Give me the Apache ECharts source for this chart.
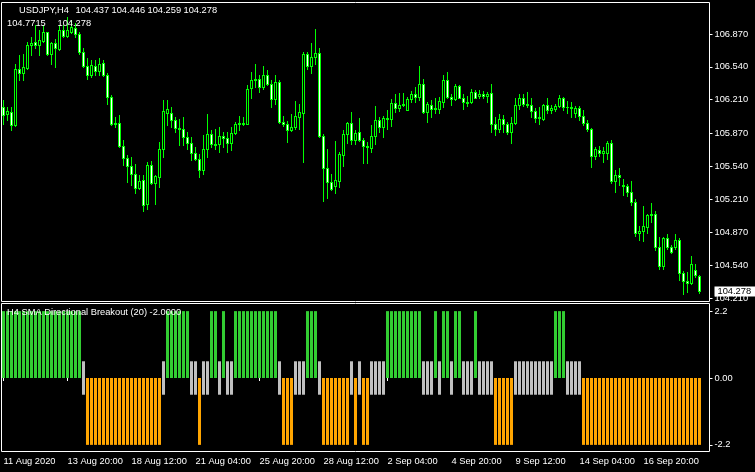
<!DOCTYPE html>
<html>
<head>
<meta charset="utf-8">
<title>USDJPY,H4</title>
<script src="https://cdn.jsdelivr.net/npm/echarts@6/dist/echarts.min.js"></script>
<style>
  html, body { margin: 0; padding: 0; background: #000; }
  #chart { width: 755px; height: 472px; }
</style>
</head>
<body>
<div id="chart"></div>
<script>
// USDJPY H4 candles (11 Aug 04:00 .. 17 Sep 2020)
var opens = [
  106.138,106.061,106.081,105.953,106.524,106.474,106.530,106.759,106.793,106.759,
  106.803,106.887,106.675,106.776,106.716,106.910,106.853,106.893,106.937,106.867,
  106.692,106.551,106.457,106.554,106.500,106.581,106.457,106.239,105.970,105.977,
  105.741,105.627,105.543,105.466,105.321,105.398,105.163,105.550,105.372,105.432,
  105.718,106.071,106.071,106.010,105.926,105.913,105.835,105.775,105.674,105.613,
  105.499,105.711,105.863,105.768,105.761,105.842,105.825,105.775,105.876,105.970,
  105.980,105.970,106.323,106.407,106.420,106.333,106.457,106.373,106.212,106.390,
  105.987,105.970,105.909,105.930,106.037,106.077,106.668,106.548,106.635,106.685,
  105.842,105.526,105.382,105.341,105.392,105.651,105.869,105.980,105.808,105.886,
  105.802,105.745,105.728,105.842,106.003,105.936,106.027,106.020,106.181,106.131,
  106.161,106.111,106.212,106.272,106.239,106.373,106.087,106.158,106.121,106.121,
  106.188,106.413,106.239,106.215,106.346,106.229,106.188,106.185,106.286,106.245,
  106.269,106.252,106.279,105.970,105.919,106.013,105.970,105.886,105.977,106.161,
  106.232,106.165,106.158,106.094,106.030,106.020,106.161,106.111,106.121,106.145,
  106.222,106.138,106.141,106.071,106.131,106.047,105.977,105.919,105.640,105.701,
  105.677,105.674,105.778,105.392,105.449,105.355,105.341,105.281,105.180,104.868,
  104.888,104.929,105.046,105.063,104.727,104.532,104.818,104.727,104.727,104.794,
  104.465,104.381,104.364,104.492,104.437
];
var closes = [
  106.054,106.094,105.953,106.524,106.474,106.541,106.759,106.786,106.759,106.810,
  106.887,106.668,106.776,106.726,106.910,106.853,106.910,106.944,106.867,106.692,
  106.551,106.457,106.558,106.500,106.574,106.457,106.239,105.970,105.980,105.741,
  105.627,105.543,105.466,105.321,105.388,105.153,105.550,105.372,105.439,105.718,
  106.094,106.114,106.010,105.926,105.913,105.835,105.775,105.674,105.613,105.499,
  105.711,105.863,105.768,105.758,105.842,105.822,105.775,105.879,105.970,105.977,
  105.970,106.313,106.407,106.420,106.333,106.457,106.373,106.212,106.390,105.987,
  105.970,105.909,105.936,106.044,106.081,106.668,106.551,106.635,106.685,105.842,
  105.526,105.382,105.315,105.398,105.661,105.869,105.980,105.808,105.879,105.802,
  105.745,105.735,105.842,106.003,105.936,106.027,106.020,106.181,106.131,106.161,
  106.171,106.212,106.272,106.239,106.373,106.087,106.171,106.121,106.124,106.195,
  106.413,106.239,106.212,106.346,106.229,106.188,106.181,106.286,106.229,106.269,
  106.252,106.272,105.970,105.919,106.013,105.970,105.886,105.980,106.161,106.232,
  106.165,106.158,106.094,106.030,106.037,106.161,106.111,106.124,106.145,106.222,
  106.138,106.141,106.131,106.131,106.047,105.977,105.919,105.640,105.718,105.677,
  105.698,105.778,105.392,105.449,105.429,105.341,105.281,105.180,104.868,104.888,
  104.936,105.046,105.063,104.727,104.532,104.818,104.727,104.677,104.794,104.465,
  104.381,104.368,104.559,104.442,104.278
];
var highs = [
  106.205,106.138,106.138,106.574,106.658,106.675,106.793,106.843,106.961,106.910,
  106.961,106.893,106.793,106.826,106.961,106.961,107.045,107.011,106.978,106.893,
  106.726,106.625,106.608,106.608,106.625,106.608,106.474,106.255,106.037,106.054,
  105.802,105.651,105.634,105.560,105.449,105.449,105.583,105.590,105.449,105.785,
  106.205,106.205,106.138,106.037,106.020,106.037,105.886,105.835,105.735,105.667,
  105.852,106.061,105.903,105.919,105.936,105.886,105.886,105.936,105.987,106.044,
  106.037,106.356,106.490,106.568,106.457,106.548,106.514,106.413,106.457,106.413,
  106.044,105.997,106.064,106.195,106.165,106.692,106.692,106.783,106.927,106.726,
  105.869,105.718,105.466,105.792,105.684,105.909,105.987,106.081,105.909,106.027,
  105.819,105.785,105.953,106.145,106.037,106.044,106.111,106.212,106.272,106.279,
  106.279,106.239,106.299,106.333,106.548,106.423,106.188,106.205,106.222,106.239,
  106.457,106.490,106.265,106.373,106.356,106.272,106.245,106.313,106.306,106.306,
  106.299,106.289,106.366,106.037,106.064,106.054,105.987,106.037,106.232,106.265,
  106.265,106.289,106.222,106.131,106.138,106.171,106.222,106.161,106.171,106.255,
  106.239,106.198,106.188,106.145,106.145,106.104,106.003,105.926,105.735,105.745,
  105.735,105.792,105.802,105.506,105.526,105.415,105.365,105.388,105.214,104.936,
  105.140,105.063,105.170,105.086,104.828,104.828,104.862,104.744,104.862,104.821,
  104.482,104.475,104.633,104.559,104.446
];
var lows = [
  105.963,106.003,105.903,105.943,106.407,106.407,106.520,106.658,106.726,106.658,
  106.793,106.658,106.574,106.541,106.709,106.843,106.843,106.877,106.843,106.675,
  106.541,106.423,106.440,106.457,106.457,106.447,106.171,105.953,105.936,105.735,
  105.550,105.382,105.348,105.271,105.315,105.090,105.113,105.365,105.163,105.331,
  105.634,105.953,105.936,105.886,105.751,105.751,105.718,105.600,105.600,105.432,
  105.466,105.634,105.735,105.718,105.684,105.735,105.684,105.701,105.869,105.903,
  105.953,105.963,106.232,106.339,106.289,106.313,106.356,106.138,106.171,105.977,
  105.943,105.785,105.896,105.919,105.919,105.583,106.524,106.480,106.574,105.835,
  105.190,105.224,105.305,105.271,105.331,105.543,105.775,105.768,105.768,105.795,
  105.573,105.573,105.684,105.761,105.886,105.835,105.919,105.943,106.087,106.094,
  106.145,106.104,106.188,106.188,106.205,106.077,105.987,106.037,106.071,106.077,
  106.138,106.229,106.155,106.205,106.222,106.121,106.148,106.178,106.222,106.232,
  106.232,106.188,105.886,105.852,105.886,105.886,105.862,105.775,105.963,106.121,
  106.145,106.138,106.037,105.987,105.970,106.003,106.071,106.071,106.097,106.138,
  106.111,106.071,106.037,106.037,106.003,105.953,105.896,105.533,105.610,105.644,
  105.583,105.617,105.375,105.281,105.348,105.248,105.237,105.153,104.835,104.794,
  104.788,104.868,104.979,104.694,104.509,104.509,104.710,104.667,104.710,104.391,
  104.257,104.274,104.358,104.425,104.259
];

// indicator state per bar: 1 = up (green), -1 = down (orange), 0 = neutral (grey)
var signal = [
  1,1,1,1,1,1,1,1,1,1, 1,1,1,1,1,1,1,1,1,1,
  0,
  -1,-1,-1,-1,-1,-1,-1,-1,-1,-1, -1,-1,-1,-1,-1,-1,-1,-1,-1,
  0,
  1,1,1,1,1,1,
  0,0,-1,0,0,1,1,0,1,0,0,
  1,1,1,1,1,1,1,1,1,1,1,
  0,-1,-1,-1,0,0,0,1,1,1,0,
  -1,-1,-1,-1,-1,-1,-1,
  0,-1,0,-1,-1,0,0,0,0,
  1,1,1,1,1,1,1,1,1,
  0,0,0,1,0,1,1,0,1,1,0,0,0,1,0,0,0,0,
  -1,-1,-1,-1,-1,
  0,0,0,0,0,0,0,0,0,0,
  1,1,1,
  0,0,0,0,
  -1,-1,-1,-1,-1,-1,-1,-1,-1,-1, -1,-1,-1,-1,-1,-1,-1,-1,-1,-1, -1,-1,-1,-1,-1,-1,-1,-1,-1,-1
];
var upLevel = 2.2;
var downLevel = -2.2;
var neutralLevel = 0.55;

// axis labels
var timeLabels = ["11 Aug 2020", "13 Aug 20:00", "18 Aug 12:00", "21 Aug 04:00", "25 Aug 20:00",
  "28 Aug 12:00", "2 Sep 04:00", "4 Sep 20:00", "9 Sep 12:00", "14 Sep 04:00", "16 Sep 20:00"];
var priceTicks = [106.870, 106.540, 106.210, 105.870, 105.540, 105.210, 104.870, 104.540, 104.210];
var indTicks = [2.2, 0, -2.2];
var indTickText = ["2.2", "0.00", "-2.2"];

var symbolTitle = "USDJPY,H4";
var indTitle = "H4 SMA Directional Breakout (20) -2.0000";
var extraValues = ["104.7715", "104.278"];

var FONT = "Liberation Sans";
var FS = 9.3;
var LIME = '#00ff00';
var labelStep = 16;      // one time label every 16 bars
var nBars = opens.length;
var nSlots = nBars + 2;  // chart shift: two empty slots on the right

var categories = [];
for (var i = 0; i < nSlots; i++) categories.push(String(i));

var candleData = opens.map(function (o, i) {
  return [i, o, closes[i], lows[i], highs[i]];
});

function pick(state, value) {
  return signal.map(function (s) { return s === state ? value : '-'; });
}

// MT4 style candle: lime outline + wick, black body if up, white body if down
function renderCandle(params, api) {
  var i = api.value(0), o = api.value(1), c = api.value(2), l = api.value(3), h = api.value(4);
  var cx = Math.floor(api.coord([i, o])[0]);
  var yO = Math.round(api.coord([i, o])[1]);
  var yC = Math.round(api.coord([i, c])[1]);
  var yH = Math.round(api.coord([i, h])[1]);
  var yL = Math.round(api.coord([i, l])[1]);
  var top = Math.min(yO, yC), bot = Math.max(yO, yC);
  var kids = [
    { type: 'rect', shape: { x: cx, y: yH, width: 1, height: yL - yH + 1 }, style: { fill: LIME } },
    { type: 'rect', shape: { x: cx - 1, y: top, width: 3, height: bot - top + 1 }, style: { fill: LIME } }
  ];
  if (bot - top >= 2) {
    kids.push({ type: 'rect', shape: { x: cx, y: top + 1, width: 1, height: bot - top - 1 },
      style: { fill: c < o ? '#ffffff' : '#000000' } });
  }
  return { type: 'group', children: kids };
}

var last = nBars - 1;
var headerVals = [opens[last], highs[last], lows[last], closes[last]].map(function (v) { return v.toFixed(3); });

function txt(x, y, s) {
  return { type: 'text', x: x, y: y, z: 100,
    style: { text: s, fill: '#fff', fontSize: FS, fontFamily: FONT, verticalAlign: 'middle' } };
}
var graphics = [txt(19, 10.5, symbolTitle), txt(7, 23.5, extraValues[0]), txt(57.5, 23.5, extraValues[1]), txt(7, 312.5, indTitle)];
headerVals.forEach(function (t, k) { graphics.push(txt(75.5 + 36 * k, 10.5, t)); });

var chart = echarts.init(document.getElementById('chart'), null, { renderer: 'canvas' });

chart.setOption({
  backgroundColor: '#000',
  animation: false,
  graphic: graphics,
  grid: [
    { left: 1.5, top: 2.5, width: 708, height: 299, outerBoundsMode: 'none', containLabel: false,
      show: true, borderColor: '#fff', borderWidth: 1, backgroundColor: 'transparent' },
    { left: 1.5, top: 303.5, width: 708, height: 148, outerBoundsMode: 'none', containLabel: false,
      show: true, borderColor: '#fff', borderWidth: 1, backgroundColor: 'transparent' }
  ],
  xAxis: [
    { type: 'category', gridIndex: 0, data: categories, show: false },
    {
      type: 'category', gridIndex: 1, data: categories,
      axisLine: { show: false },
      axisTick: {
        show: true, alignWithLabel: true, length: 3,
        interval: function (idx) { return idx % labelStep === 0 && idx < nBars; },
        lineStyle: { color: '#fff', width: 1 }
      },
      axisLabel: {
        interval: function (idx) { return idx % labelStep === 0 && idx < nBars; },
        align: 'left', margin: 5, color: '#fff', fontSize: FS, fontFamily: FONT,
        formatter: function (v, idx) { return timeLabels[idx / labelStep] || ''; }
      },
      splitLine: { show: false }
    }
  ],
  yAxis: [
    {
      type: 'value', gridIndex: 0, position: 'right', min: 104.177, max: 107.189,
      axisLine: { show: false }, splitLine: { show: false },
      axisTick: { show: true, length: 3, customValues: priceTicks, lineStyle: { color: '#fff' } },
      axisLabel: { customValues: priceTicks, margin: 5, color: '#fff', fontSize: FS, fontFamily: FONT,
        formatter: function (v) { return v.toFixed(3); } }
    },
    {
      // current price box
      type: 'value', gridIndex: 0, position: 'right', min: 104.177, max: 107.189,
      axisLine: { show: false }, splitLine: { show: false }, axisTick: { show: false },
      axisLabel: { customValues: [closes[last]], margin: 5, color: '#000', fontSize: FS, fontFamily: FONT,
        backgroundColor: '#fff', padding: [1, 9, 0, 3],
        formatter: function (v) { return v.toFixed(3); } }
    },
    {
      type: 'value', gridIndex: 1, position: 'right', min: -2.418, max: 2.451,
      axisLine: { show: false }, splitLine: { show: false },
      axisTick: { show: true, length: 3, customValues: indTicks, lineStyle: { color: '#fff' } },
      axisLabel: { customValues: indTicks, margin: 5, color: '#fff', fontSize: FS, fontFamily: FONT,
        formatter: function (v) { return indTickText[indTicks.indexOf(v)]; } }
    }
  ],
  series: [
    {
      name: 'USDJPY', type: 'custom', xAxisIndex: 0, yAxisIndex: 0,
      data: candleData, renderItem: renderCandle,
      encode: { x: 0, y: [1, 2, 3, 4] }
    },
    { name: 'up', type: 'bar', xAxisIndex: 1, yAxisIndex: 2, data: pick(1, upLevel), barWidth: 3, barGap: '-100%', itemStyle: { color: '#32cd32' } },
    { name: 'down', type: 'bar', xAxisIndex: 1, yAxisIndex: 2, data: pick(-1, downLevel), barWidth: 3, barGap: '-100%', itemStyle: { color: '#ffa500' } },
    { name: 'flat+', type: 'bar', xAxisIndex: 1, yAxisIndex: 2, data: pick(0, neutralLevel), barWidth: 3, barGap: '-100%', itemStyle: { color: '#c0c0c0' } },
    { name: 'flat-', type: 'bar', xAxisIndex: 1, yAxisIndex: 2, data: pick(0, -neutralLevel), barWidth: 3, barGap: '-100%', itemStyle: { color: '#c0c0c0' } }
  ]
});
</script>
</body>
</html>
